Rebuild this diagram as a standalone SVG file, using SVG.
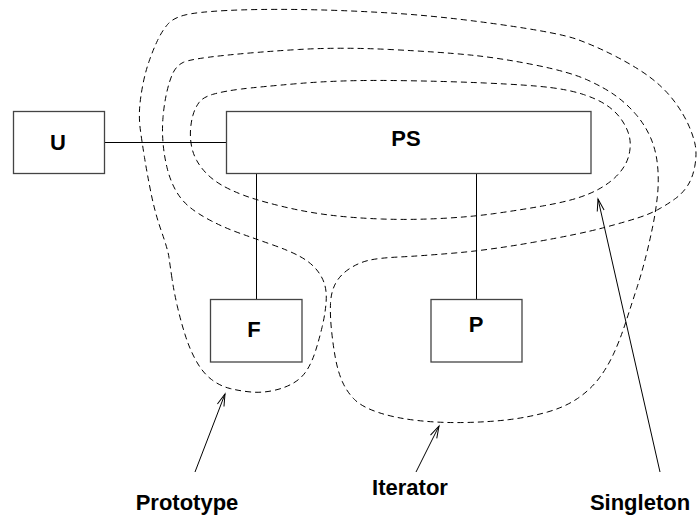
<svg xmlns="http://www.w3.org/2000/svg" width="697" height="525" viewBox="0 0 697 525">
<style>
.box{fill:#fff;stroke:#444;stroke-width:1.3}
.lbl{font-family:"Liberation Sans",Arial,sans-serif;font-weight:bold;font-size:22px;fill:#000;text-anchor:middle}
.conn{stroke:#000;stroke-width:1;fill:none}
.dash{stroke:#000;stroke-width:1;fill:none;stroke-dasharray:6 4}
</style>
<defs>
<marker id="open" markerUnits="userSpaceOnUse" markerWidth="16" markerHeight="10" refX="0" refY="0" viewBox="-14 -5 16 10" orient="auto">
<path d="M-12,-3.5 L0,0 L-12,3.5" fill="none" stroke="#000" stroke-width="1"/>
</marker>
</defs>
<g id="connectors">
<line class="conn" x1="104" y1="142.5" x2="226.5" y2="142.5"/>
<line class="conn" x1="256.5" y1="173.5" x2="256.5" y2="299.5"/>
<line class="conn" x1="476.5" y1="173.5" x2="476.5" y2="299.5"/>
</g>
<g id="U"><rect class="box" x="13.5" y="111.5" width="91" height="62"/><text class="lbl" x="58" y="150">U</text></g>
<g id="PS"><rect class="box" x="226.5" y="111.5" width="364.5" height="62"/><text class="lbl" x="406" y="146">PS</text></g>
<g id="F"><rect class="box" x="210.5" y="299.5" width="91.5" height="62.5"/><text class="lbl" x="254" y="337">F</text></g>
<g id="P"><rect class="box" x="431" y="299.5" width="91" height="62.5"/><text class="lbl" x="476" y="332">P</text></g>
<g id="regions">
<path class="dash" d="M191.5,146 Q190,138 190.5,130 T193,115 T199,102.5 T214,94 T241.5,89 T299,83.5 T390,80.5 T485,83 T550,87.5 T583.5,94.5 T605.5,104.5 T619.5,117 T628,132 T630,149 T625,165 T614.5,178 T599,189 T577.5,198 T542.5,206 T495,213.5 T440,218.5 T381.5,219 T329,215 T280.5,206 T243,195 T221.5,185 T207,174 T197,161 T191.5,146 Z"/>
<path class="dash" d="M172,278.5 Q170,265 169,257.5 T161.5,231.5 T151,193 T144.5,157.5 T140.5,131 T139.5,110 T142.5,86.5 T149,61.5 T157.5,40.5 T167.5,24.5 T185,15 T227,10.5 T298.5,9.5 T390,13 T500,24.5 T577.5,39.5 T611,54 T639.5,70 T661,86.5 T677,105 T688.5,125 T695,144 T695,165 T688,185 T675.5,198.5 T659,209 T637.5,218 T602.5,228 T535,242 T455,253 T399,257 T368,260.5 T349,269 T335.5,283.5 T330.5,303.5 T331.5,330 T335.5,358.5 T342.5,382 T354.5,399.5 T378.5,412.5 T417.5,420.5 T465,422.5 T510,419.5 T547.5,412 T577.5,398.5 T598.5,379 T613.5,354 T626,321.5 T637,287.5 T646,256 T653,225 T657.5,195 T657.5,165 T650.5,137.5 T636,114.5 T616,96 T587.5,80 T535,65 T470,55 T390,49.5 T298.5,49.5 T223.5,55.5 T183,62.5 T172.5,74 T166.5,93.5 T163,117.5 T163,142.5 T167,167.5 T175.5,190 T189.5,207 T211.5,221 T240.5,233.5 T273,245 T300,256.5 T316,269 T324.5,284 T326,303.5 T322,327.5 T315.5,351 T307,370 T293.5,383 T273.5,390.5 T251,392 T230,388.5 T211.5,379.5 T196.5,361.5 T185.5,336 T177.5,307 T172,278.5 Z"/>
</g>
<g id="labels">
<line class="conn" x1="195" y1="472" x2="225" y2="394" marker-end="url(#open)"/>
<line class="conn" x1="416" y1="472" x2="439" y2="426" marker-end="url(#open)"/>
<line class="conn" x1="660" y1="472" x2="598" y2="199" marker-end="url(#open)"/>
<text class="lbl" x="187" y="510">Prototype</text>
<text class="lbl" x="410" y="495">Iterator</text>
<text class="lbl" x="640" y="510">Singleton</text>
</g>
</svg>
